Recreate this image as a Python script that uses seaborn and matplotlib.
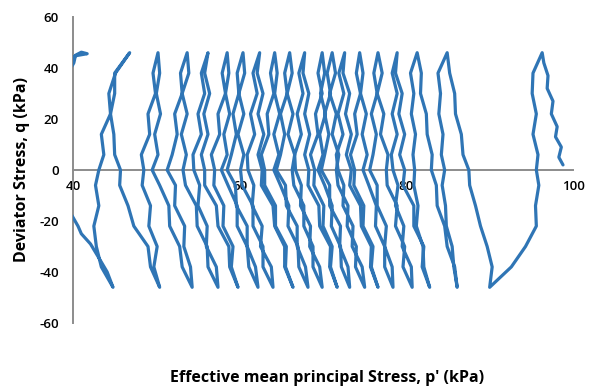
import numpy as np
import pandas as pd
import matplotlib
matplotlib.use("Agg")
import matplotlib.pyplot as plt
import seaborn as sns

# q levels used for each half-cycle (down = compression peak -> extension trough)
Q_DOWN = [46, 38, 30, 22, 14, 6, 0, -6, -14, -22, -30, -38, -46]
Q_UP = [-46, -38, -30, -22, -14, -6, 0, 6, 14, 22, 30, 38, 46]

# initial loading
start_q = [2, 5, 9, 13, 17, 22, 27, 32, 37, 42, 46]
start_p = [98.8, 98.3, 98.6, 97.9, 98.1, 97.4, 97.6, 96.9, 97.0, 96.5, 96.3]

# p' values along each half-cycle
d01 = [96.3, 95.2, 95.1, 95.6, 95.2, 95.8, 95.6, 95.9, 95.5, 95.6, 94.3, 92.6, 90.0]
u01 = [90.0, 90.3, 89.7, 88.9, 88.3, 87.6, 87.5, 86.8, 86.6, 85.9, 85.8, 85.2, 84.9]
d02 = [84.9, 83.8, 84.1, 83.9, 84.4, 84.2, 84.6, 84.3, 84.7, 84.8, 85.5, 85.7, 86.1]
u02 = [86.1, 85.8, 84.9, 84.6, 83.7, 83.6, 83.0, 83.1, 82.5, 82.4, 81.7, 81.8, 81.3]
d03 = [81.3, 80.5, 80.9, 80.6, 81.1, 80.8, 81.0, 80.9, 81.4, 81.2, 82.0, 82.1, 82.8]
u03 = [82.8, 81.9, 82.1, 80.9, 80.9, 79.6, 79.8, 79.2, 79.8, 79.1, 79.5, 78.7, 78.9]
d04 = [78.9, 78.3, 78.9, 78.3, 78.9, 78.2, 78.4, 79.0, 78.7, 79.7, 79.5, 80.6, 80.7]
u04 = [80.7, 79.6, 79.8, 78.7, 78.9, 77.7, 77.6, 77.8, 76.9, 77.3, 76.5, 77.1, 76.6]
d05 = [76.6, 76.1, 76.5, 75.8, 76.4, 76.0, 75.6, 76.5, 76.5, 77.6, 77.4, 78.3, 78.4]
u05 = [78.4, 77.4, 77.4, 76.3, 76.4, 75.5, 74.8, 75.3, 74.7, 75.2, 74.5, 74.8, 74.4]
d06 = [74.4, 74.0, 74.5, 73.8, 74.1, 73.3, 73.8, 73.7, 74.9, 74.8, 76.0, 75.8, 76.6]
u06 = [76.6, 75.7, 75.8, 74.6, 74.5, 73.2, 73.4, 72.8, 73.4, 72.7, 73.2, 72.4, 72.6]
d07 = [72.6, 71.9, 72.5, 71.8, 72.4, 71.6, 71.8, 72.5, 72.4, 73.6, 73.5, 74.7, 75.0]
u07 = [75.0, 73.9, 74.0, 72.9, 73.0, 71.8, 71.6, 71.9, 71.1, 71.6, 70.8, 71.5, 71.1]
d08 = [71.1, 70.5, 70.9, 70.2, 70.7, 70.2, 69.8, 70.8, 70.8, 72.1, 72.0, 73.0, 73.2]
u08 = [73.2, 72.2, 72.1, 71.0, 71.1, 70.2, 69.4, 70.0, 69.6, 70.3, 69.7, 70.2, 69.9]
d09 = [69.9, 69.4, 69.9, 69.1, 69.4, 68.5, 69.0, 68.9, 70.1, 70.0, 71.1, 70.9, 71.7]
u09 = [71.7, 70.8, 70.9, 69.6, 69.5, 68.2, 68.3, 67.8, 68.4, 67.8, 68.3, 67.6, 67.8]
d10 = [67.8, 67.1, 67.6, 66.9, 67.4, 66.6, 66.7, 67.4, 67.3, 68.5, 68.4, 69.6, 69.9]
u10 = [69.9, 68.8, 68.8, 67.7, 67.7, 66.5, 66.3, 66.6, 65.8, 66.4, 65.7, 66.3, 66.0]
d11 = [66.0, 65.4, 65.7, 64.9, 65.4, 64.9, 64.4, 65.5, 65.6, 66.9, 66.9, 67.9, 68.2]
u11 = [68.2, 67.1, 67.0, 65.8, 65.9, 64.9, 64.1, 64.7, 64.1, 64.8, 64.2, 64.5, 64.2]
d12 = [64.2, 63.7, 64.1, 63.3, 63.5, 62.6, 63.0, 63.0, 64.3, 64.3, 65.6, 65.5, 66.4]
u12 = [66.4, 65.4, 65.4, 64.2, 64.0, 62.6, 62.7, 62.2, 62.9, 62.2, 62.8, 62.1, 62.4]
d13 = [62.4, 61.6, 62.1, 61.3, 61.8, 60.9, 61.0, 61.7, 61.5, 62.7, 62.5, 63.8, 64.0]
u13 = [64.0, 62.8, 62.8, 61.6, 61.6, 60.3, 60.1, 60.5, 59.8, 60.5, 59.9, 60.6, 60.4]
d14 = [60.4, 59.7, 59.9, 59.2, 59.6, 59.0, 58.5, 59.5, 59.6, 60.9, 60.9, 61.9, 62.2]
u14 = [62.2, 61.1, 60.9, 59.7, 59.7, 58.6, 57.8, 58.5, 58.1, 58.8, 58.3, 58.7, 58.5]
d15 = [58.5, 57.9, 58.3, 57.4, 57.6, 56.6, 57.0, 56.9, 58.1, 58.0, 59.2, 59.0, 59.8]
u15 = [59.8, 58.8, 58.7, 57.4, 57.2, 55.8, 55.8, 55.4, 56.2, 55.7, 56.4, 55.8, 56.2]
d16 = [56.2, 55.4, 55.8, 55.0, 55.4, 54.4, 54.5, 55.2, 55.0, 56.1, 56.0, 57.2, 57.4]
u16 = [57.4, 56.2, 56.1, 54.9, 54.8, 53.5, 53.2, 53.6, 53.0, 53.7, 53.1, 53.9, 53.7]
d17 = [53.7, 52.9, 53.1, 52.2, 52.5, 51.9, 51.3, 52.3, 52.2, 53.4, 53.3, 54.1, 54.3]
u17 = [54.3, 53.1, 52.8, 51.6, 51.5, 50.4, 49.5, 50.2, 49.8, 50.5, 50.0, 50.4, 50.2]
d18 = [50.2, 49.6, 49.9, 49.0, 49.2, 48.2, 48.5, 48.3, 49.3, 49.1, 50.1, 49.7, 50.4]
u18 = [50.4, 49.3, 49.0, 47.3, 46.6, 45.6, 45.7, 45.0, 44.9, 44.5, 45.0, 45.0, 46.8]
d19 = [46.8, 45.1, 44.3, 44.5, 43.4, 43.7, 43.1, 42.7, 43.1, 42.5, 42.8, 43.4, 44.8]

# last cycle runs past the left edge of the axis
u19_q = [-46, -40, -35, -29, -25, -22, -18, -10, 0, 15, 30, 38, 42, 45, 46.2]
u19_p = [44.8, 44.1, 43.2, 42.1, 41.0, 40.6, 39.9, 38.5, 37.5, 37.5, 38.5, 39.4, 40.1, 40.3, 41.0]
tail_q = [45.6, 45.2, 44.8, 42, 30, 10, 0]
tail_p = [41.7, 41.0, 40.3, 39.0, 37.0, 35.0, 34.0]

x_ticks = [40, 60, 80, 100]
y_ticks = [-60, -40, -20, 0, 20, 40, 60]
x_label = "Effective mean principal Stress, p' (kPa)"
y_label = "Deviator Stress, q (kPa)"

downs = [d01, d02, d03, d04, d05, d06, d07, d08, d09, d10,
         d11, d12, d13, d14, d15, d16, d17, d18, d19]
ups = [u01, u02, u03, u04, u05, u06, u07, u08, u09, u10,
       u11, u12, u13, u14, u15, u16, u17, u18]

p_parts = [start_p]
q_parts = [start_q]
for i, d in enumerate(downs):
    p_parts.append(d)
    q_parts.append(Q_DOWN)
    if i < len(ups):
        p_parts.append(ups[i])
        q_parts.append(Q_UP)
p_parts += [u19_p, tail_p]
q_parts += [u19_q, tail_q]

p = np.concatenate([np.asarray(a, float) for a in p_parts])
q = np.concatenate([np.asarray(a, float) for a in q_parts])
df = pd.DataFrame({"p": p, "q": q})

sns.set_theme(style="white")
plt.rcParams["font.family"] = ["Open Sans", "DejaVu Sans"]
plt.rcParams["axes.unicode_minus"] = False

fig = plt.figure(figsize=(5.91, 3.90), dpi=100)
ax = fig.add_axes([73 / 591, 1 - 323 / 390, 500 / 591, 306 / 390])

sns.lineplot(data=df, x="p", y="q", sort=False, estimator=None,
             color="#2F75B5", lw=2.3, ax=ax, zorder=3,
             solid_joinstyle="round", solid_capstyle="round")

ax.set_xlim(40, 100)
ax.set_ylim(-60, 60)
ax.set_xticks(x_ticks)
ax.set_yticks(y_ticks)

axis_col = "#8C8C8C"
for s in ["top", "right"]:
    ax.spines[s].set_visible(False)
ax.spines["bottom"].set_position(("data", 0))
for s in ["left", "bottom"]:
    ax.spines[s].set_color(axis_col)
    ax.spines[s].set_linewidth(1.4)

ax.tick_params(axis="both", direction="in", length=4, width=1.2,
               color=axis_col, labelsize=9.5, labelcolor="black")
ax.tick_params(axis="y", pad=10)
ax.tick_params(axis="x", pad=7)
for lab in ax.get_xticklabels() + ax.get_yticklabels():
    lab.set_fontweight("semibold")

ax.set_xlabel(x_label, fontsize=11.5, fontweight="bold", color="black")
ax.set_ylabel(y_label, fontsize=11.5, fontweight="bold", color="black")
ax.xaxis.set_label_coords(0.508, -0.155)
ax.yaxis.set_label_coords(-0.086, 0.5)

fig.savefig("out.png", dpi=100)
